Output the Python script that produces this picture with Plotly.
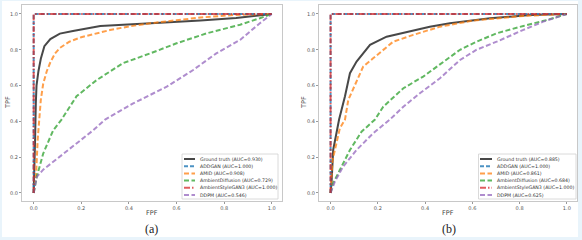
import plotly.graph_objects as go

W, H = 582, 240

# ---------------- data ----------------
series_names = ["Ground truth", "ADDGAN", "AMID", "AmbientDiffusion", "AmbientStyleGAN3", "DDPM"]
auc_a = ["0.930", "1.000", "0.908", "0.729", "1.000", "0.546"]
auc_b = ["0.885", "1.000", "0.861", "0.684", "1.000", "0.625"]

# Panel (a)
gt_a_x = [0, 0.003, 0.006, 0.009, 0.012, 0.02, 0.03, 0.045, 0.07, 0.11, 0.165, 0.28, 0.42, 0.55, 0.7, 0.85, 1.0]
gt_a_y = [0, 0.1, 0.3, 0.5, 0.6, 0.68, 0.75, 0.82, 0.86, 0.89, 0.905, 0.932, 0.944, 0.952, 0.963, 0.978, 1.0]
perfect_x = [0, 0, 1.0]
perfect_y = [0, 1.0, 1.0]
amid_a_x = [0, 0.01, 0.017, 0.022, 0.03, 0.04, 0.055, 0.07, 0.09, 0.11, 0.15, 0.2, 0.26, 0.32, 0.4, 0.49, 0.6, 0.7, 0.84, 1.0]
amid_a_y = [0, 0.1, 0.3, 0.4, 0.52, 0.61, 0.68, 0.73, 0.78, 0.81, 0.845, 0.87, 0.89, 0.91, 0.93, 0.948, 0.965, 0.98, 0.994, 1.0]
amb_a_x = [0, 0.013, 0.04, 0.082, 0.117, 0.18, 0.264, 0.375, 0.49, 0.60, 0.727, 0.867, 0.95, 1.0]
amb_a_y = [0, 0.09, 0.22, 0.35, 0.41, 0.54, 0.63, 0.725, 0.78, 0.836, 0.892, 0.94, 0.976, 1.0]
ddpm_a_x = [0, 0.013, 0.04, 0.097, 0.18, 0.25, 0.30, 0.418, 0.559, 0.67, 0.767, 0.867, 0.95, 1.0]
ddpm_a_y = [0, 0.09, 0.13, 0.19, 0.28, 0.35, 0.41, 0.50, 0.594, 0.687, 0.78, 0.855, 0.948, 1.0]

# Panel (b)
gt_b_x = [0, 0.004, 0.011, 0.036, 0.061, 0.082, 0.11, 0.167, 0.237, 0.322, 0.42, 0.505, 0.675, 0.845, 1.0]
gt_b_y = [0, 0.054, 0.24, 0.41, 0.54, 0.669, 0.734, 0.827, 0.873, 0.90, 0.929, 0.948, 0.976, 0.994, 1.0]
amid_b_x = [0, 0.008, 0.039, 0.061, 0.075, 0.096, 0.138, 0.18, 0.265, 0.35, 0.463, 0.604, 0.816, 1.0]
amid_b_y = [0, 0.18, 0.36, 0.41, 0.52, 0.585, 0.706, 0.752, 0.845, 0.883, 0.929, 0.963, 0.989, 1.0]
amb_b_x = [0, 0.011, 0.039, 0.082, 0.131, 0.188, 0.223, 0.308, 0.392, 0.477, 0.548, 0.618, 0.703, 0.816, 0.915, 1.0]
amb_b_y = [0, 0.054, 0.128, 0.24, 0.342, 0.41, 0.482, 0.585, 0.65, 0.734, 0.80, 0.845, 0.892, 0.933, 0.966, 1.0]
ddpm_b_x = [0, 0.018, 0.053, 0.11, 0.18, 0.251, 0.308, 0.378, 0.463, 0.548, 0.618, 0.703, 0.816, 0.90, 1.0]
ddpm_b_y = [0, 0.063, 0.147, 0.24, 0.333, 0.41, 0.482, 0.557, 0.641, 0.743, 0.80, 0.845, 0.911, 0.957, 1.0]

tick_vals = [0.0, 0.2, 0.4, 0.6, 0.8, 1.0]
tick_text = ["0.0", "0.2", "0.4", "0.6", "0.8", "1.0"]

# ---------------- styles ----------------
colors = ["rgba(40,40,40,0.85)", "rgba(31,119,180,0.8)", "rgba(255,127,14,0.75)",
          "rgba(44,160,44,0.75)", "rgba(214,39,40,0.75)", "rgba(148,103,189,0.75)"]
dashes = ["solid", "4px,2px", "5px,2.5px", "5px,2.5px", "6px,2px,1.5px,2px", "5px,2.5px"]
widths = [2, 2, 2, 2, 2, 2]

panels = [
    dict(xs=[gt_a_x, perfect_x, amid_a_x, amb_a_x, perfect_x, ddpm_a_x],
         ys=[gt_a_y, perfect_y, amid_a_y, amb_a_y, perfect_y, ddpm_a_y],
         auc=auc_a, xa="x", ya="y",
         dom_x=(22, 282), legend_box=(182, 278), sample=(184, 195), text_x=197.5,
         cap="(a)", cap_x=151, ytitle_x=8),
    dict(xs=[gt_b_x, perfect_x, amid_b_x, amb_b_x, perfect_x, ddpm_b_x],
         ys=[gt_b_y, perfect_y, amid_b_y, amb_b_y, perfect_y, ddpm_b_y],
         auc=auc_b, xa="x2", ya="y2",
         dom_x=(319, 577), legend_box=(478.5, 576), sample=(480, 492), text_x=494.5,
         cap="(b)", cap_x=449, ytitle_x=304),
]

fig = go.Figure()
shapes = []
annotations = []

def px(x):
    return x / W

def py(y):
    return 1 - y / H

# white page inside light-blue frame
shapes.append(dict(type="rect", xref="paper", yref="paper", x0=px(2), x1=px(578), y0=py(237), y1=py(1),
                   fillcolor="white", line=dict(width=0), layer="below"))

order = [0, 2, 3, 5, 1, 4]  # draw perfect curves on top
for p in panels:
    for i in order:
        fig.add_trace(go.Scatter(x=p["xs"][i], y=p["ys"][i], mode="lines",
                                 line=dict(color=colors[i], width=widths[i], dash=dashes[i]),
                                 xaxis=p["xa"], yaxis=p["ya"], showlegend=False, hoverinfo="skip"))
    # manual legend
    lx0, lx1 = p["legend_box"]
    shapes.append(dict(type="rect", xref="paper", yref="paper", x0=px(lx0), x1=px(lx1), y0=py(199), y1=py(154),
                       fillcolor="rgba(255,255,255,0.9)", line=dict(color="#d0d0d0", width=0.8)))
    for k in range(len(series_names)):
        yy = 159 + k * 7.2
        shapes.append(dict(type="line", xref="paper", yref="paper", x0=px(p["sample"][0]), x1=px(p["sample"][1]),
                           y0=py(yy), y1=py(yy), line=dict(color=colors[k], width=2, dash=dashes[k])))
        annotations.append(dict(xref="paper", yref="paper", x=px(p["text_x"]), y=py(yy), xanchor="left",
                                yanchor="middle", showarrow=False,
                                text=f"{series_names[k]} (AUC={p['auc'][k]})",
                                font=dict(size=4.7, color="#333", family="DejaVu Sans")))
    annotations.append(dict(xref="paper", yref="paper", x=px(p["cap_x"]), y=py(229), xanchor="center",
                            yanchor="middle", showarrow=False, text=p["cap"],
                            font=dict(size=12, color="#222", family="Liberation Serif")))
    annotations.append(dict(xref="paper", yref="paper", x=px(p["ytitle_x"]), y=py(103), xanchor="center",
                            yanchor="middle", showarrow=False, text="TPF", textangle=-90,
                            font=dict(size=6.5, color="#444", family="DejaVu Sans")))
    annotations.append(dict(xref="paper", yref="paper", x=px((p["dom_x"][0] + p["dom_x"][1]) / 2 + 0), y=py(213),
                            xanchor="center", yanchor="middle", showarrow=False, text="FPF",
                            font=dict(size=6.5, color="#444", family="DejaVu Sans")))

axis_common = dict(range=[-0.049, 1.043], showgrid=False, zeroline=False, showline=True, mirror=True,
                   linecolor="#c8c8c8", linewidth=1, ticks="outside", ticklen=2, tickcolor="#999",
                   tickvals=tick_vals, ticktext=tick_text,
                   tickfont=dict(size=5, color="#555", family="DejaVu Sans"))
yaxis_common = dict(axis_common)
yaxis_common["range"] = [-0.045, 1.05]

y_dom = [(240 - 201) / 240, (240 - 5) / 240]
fig.update_layout(
    width=W, height=H, margin=dict(l=0, r=0, t=0, b=0, autoexpand=False),
    paper_bgcolor="#e9f4fb", plot_bgcolor="white",
    xaxis=dict(axis_common, domain=[px(22), px(282)], anchor="y"),
    yaxis=dict(yaxis_common, domain=y_dom, anchor="x"),
    xaxis2=dict(axis_common, domain=[px(319), px(577)], anchor="y2"),
    yaxis2=dict(yaxis_common, domain=y_dom, anchor="x2"),
    shapes=shapes, annotations=annotations, showlegend=False,
)

fig.write_html("out.html", config={"displayModeBar": False},
               post_script="document.body.style.margin='0px';document.body.style.padding='0px';")
